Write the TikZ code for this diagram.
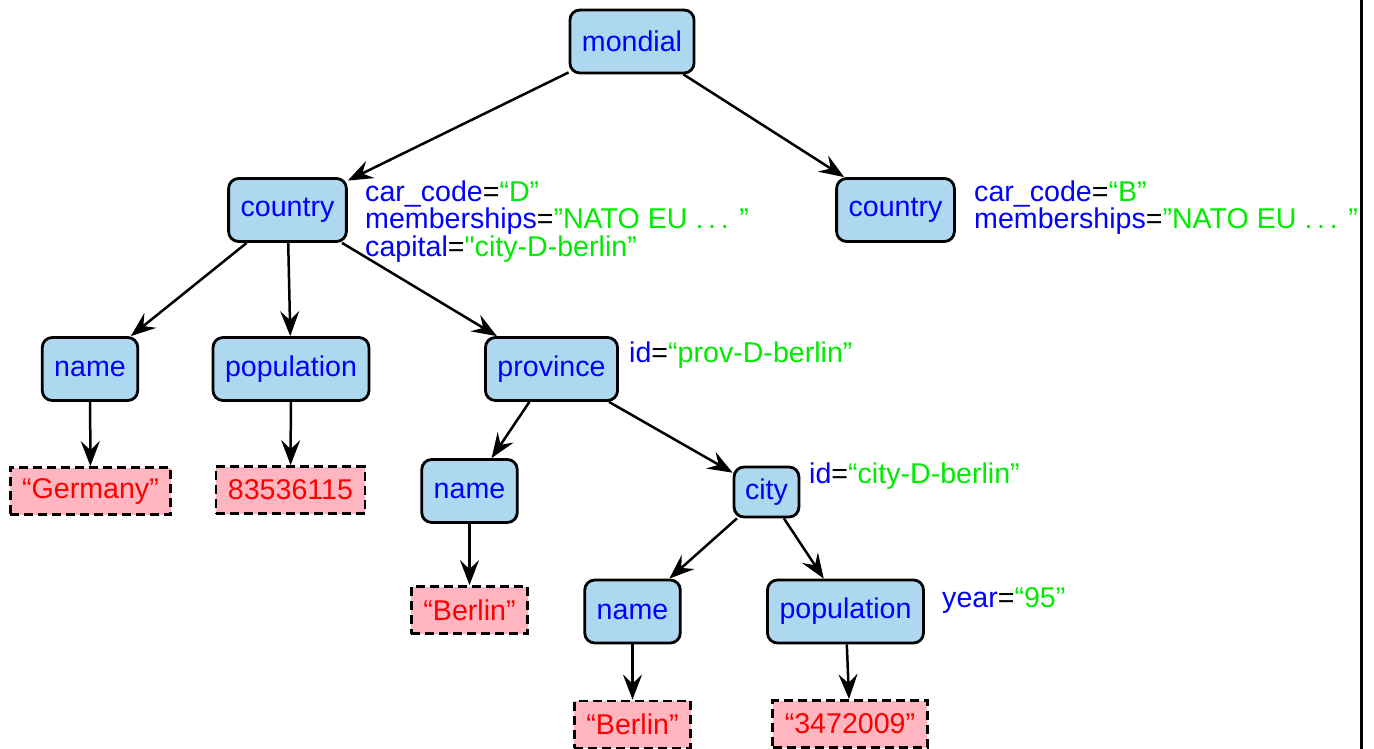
\documentclass[tikz,border=0pt]{standalone}
\usepackage{fontspec}
\setmainfont{Liberation Sans}
\usetikzlibrary{arrows.meta}
\definecolor{boxblue}{RGB}{173,216,240}
\definecolor{valpink}{RGB}{255,182,193}
\definecolor{txtblue}{RGB}{0,0,255}
\definecolor{txtgreen}{RGB}{0,235,0}
\newcommand{\bigfont}{\fontsize{28.6}{34}\selectfont}
\newcommand{\av}[2]{\textcolor{txtblue}{#1}\textcolor{black}{=}\textcolor{txtgreen}{#2}}
\begin{document}
\begin{tikzpicture}[x=1pt,y=-1pt,
  elem/.style={draw, line width=2.8pt, rounded corners=10pt, fill=boxblue, text=txtblue,
    inner xsep=12pt, inner ysep=0pt, minimum height=63pt, font=\bigfont},
  val/.style={draw, dash pattern=on 9pt off 5pt, line width=2.8pt, fill=valpink, text=red,
    inner xsep=12pt, inner ysep=0pt, minimum height=47pt, font=\bigfont},
  attr/.style={anchor=base west, inner sep=0pt, font=\bigfont},
  edge/.style={-{Stealth[length=25pt,width=19pt,inset=9pt]}, line width=2.5pt}
]
\useasboundingbox (0,0) rectangle (1374,749);
\coordinate (rtop) at (1361,0);
\coordinate (rbot) at (1361,749);
\draw[line width=3pt] (rtop) -- (rbot);

% element nodes
\node[elem] (mondial) at (632,41.5) {mondial};
\node[elem] (c1) at (287.5,210) {country};
\node[elem] (c2) at (895.5,210) {country};
\node[elem] (name1) at (90,369) {name};
\node[elem] (pop1) at (291,369) {population};
\node[elem] (prov) at (551.5,369) {province};
\node[elem] (name2) at (469.5,491) {name};
\node[elem, minimum height=50pt, inner xsep=11pt] (city) at (766.5,492) {city};
\node[elem] (name3) at (632.5,611.5) {name};
\node[elem] (pop3) at (845.5,611.5) {population};

% value nodes
\node[val] (germany) at (90.5,491) {“Germany”};
\node[val] (popval) at (290.5,490) {83536115};
\node[val] (berlin1) at (469.5,610) {“Berlin”};
\node[val] (berlin2) at (632.5,724.5) {“Berlin”};
\node[val] (popval3) at (850,724) {“3472009”};

% attributes
\node[attr] (a1) at (365,201) {\av{car\_code}{“D”}};
\node[attr] (a2) at (365,228.5) {\av{memberships}{”NATO EU .\,.\,. ”}};
\node[attr] (a3) at (365,256) {\av{capital}{\textquotedbl city-D-berlin”}};
\node[attr] (b1) at (974,201) {\av{car\_code}{“B”}};
\node[attr] (b2) at (974,228.5) {\av{memberships}{”NATO EU .\,.\,. ”}};
\node[attr] (p1) at (629,362) {\av{id}{“prov-D-berlin”}};
\node[attr] (ci1) at (809,483) {\av{id}{“city-D-berlin”}};
\node[attr] (y1) at (942,607) {\av{year}{“95”}};

% edges
\draw[edge] (mondial) -- (c1);
\draw[edge] (mondial) -- (c2);
\draw[edge] (c1) -- (name1);
\draw[edge] (c1) -- (pop1);
\draw[edge] (c1) -- (prov);
\draw[edge] (name1) -- (germany);
\draw[edge] (pop1) -- (popval);
\draw[edge] (prov) -- (name2);
\draw[edge] (prov) -- (city);
\draw[edge] (name2) -- (berlin1);
\draw[edge] (city) -- (name3);
\draw[edge] (city) -- (pop3);
\draw[edge] (name3) -- (berlin2);
\draw[edge] (pop3) -- (popval3);
\end{tikzpicture}
\end{document}
